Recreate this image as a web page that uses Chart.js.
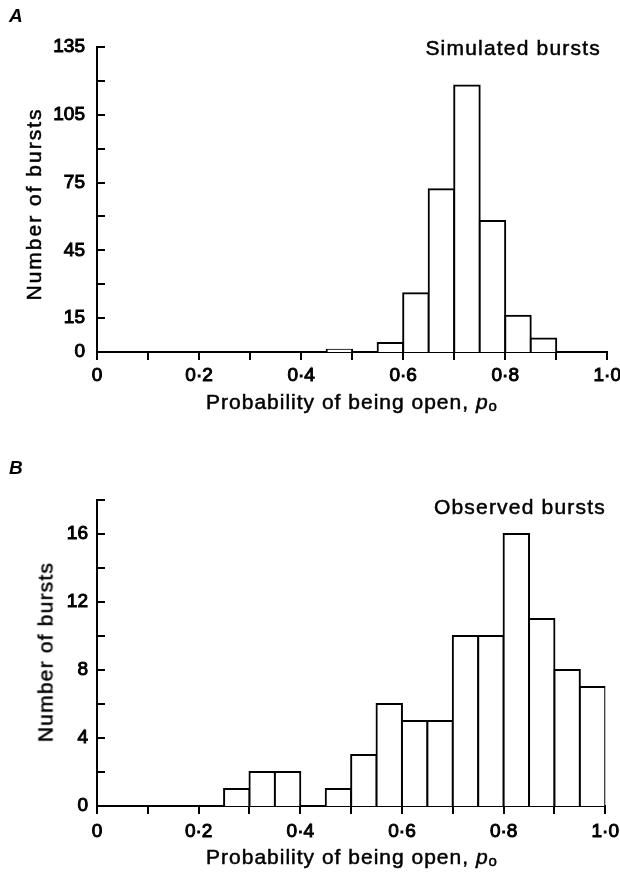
<!DOCTYPE html>
<html lang="en">

<head>
    <meta charset="UTF-8">
    <title>Probability of being open - histograms</title>
    <style>
        body { margin: 0; background: #fff; overflow: hidden; }
        #page { position: relative; width: 620px; height: 874px; overflow: hidden; font-family: "Liberation Sans", Arial, sans-serif; color: #000; }
        canvas { position: absolute; left: 0; }
        .lbl { position: absolute; white-space: nowrap; font-size: 21px; line-height: 21px; -webkit-text-stroke: 0.5px #000; }
        .panel { font-size: 19px; line-height: 19px; font-style: italic; font-weight: bold; left: 9px; -webkit-text-stroke: 0; }
        .ytitle { transform: translate(-50%, -50%) rotate(-90deg); }
        .xtitle { left: 97px; width: 509px; text-align: center; letter-spacing: 1px; }
        .xtitle sub { font-size: 15px; line-height: 0; vertical-align: -2px; letter-spacing: 0; }
    </style>
</head>

<body>
    <div id="page">
        <!-- canvas a bit wider than the page: Chart.js keeps ~19px on the right for the last tick label -->
        <canvas id="chartA" width="625" height="437" style="top:0"></canvas>
        <canvas id="chartB" width="625" height="437" style="top:437px"></canvas>

        <div class="lbl panel" style="top:6px">A</div>
        <div class="lbl" style="right:19px;top:37px;letter-spacing:1.2px">Simulated bursts</div>
        <div class="lbl ytitle" style="left:33px;top:204px;letter-spacing:2px">Number of bursts</div>
        <div class="lbl xtitle" style="top:391px">Probability of being open, <i>p</i><sub>o</sub></div>

        <div class="lbl panel" style="top:458px">B</div>
        <div class="lbl" style="right:14px;top:496px;letter-spacing:1.2px">Observed bursts</div>
        <div class="lbl ytitle" style="left:45px;top:652px;letter-spacing:1.2px">Number of bursts</div>
        <div class="lbl xtitle" style="top:846px">Probability of being open, <i>p</i><sub>o</sub></div>
    </div>

    <script src="https://cdn.jsdelivr.net/npm/chart.js"></script>
    <script>
        // bin centres (bins are 0.05 wide, from 0 to 1)
        const binCentres = [0.025, 0.075, 0.125, 0.175, 0.225, 0.275, 0.325, 0.375, 0.425, 0.475,
            0.525, 0.575, 0.625, 0.675, 0.725, 0.775, 0.825, 0.875, 0.925, 0.975];

        // counts per bin
        const simulatedCounts = [0, 0, 0, 0, 0, 0, 0, 0, 0, 1, 0, 4, 26, 72, 118, 58, 16, 6, 0, 0];
        const observedCounts = [0, 0, 0, 0, 0, 1, 2, 2, 0, 1, 3, 6, 5, 5, 10, 10, 16, 11, 8, 7];

        // tick labels
        const xTickLabels = ['0', '0·2', '0·4', '0·6', '0·8', '1·0'];
        const yLabelsA = [0, 15, 45, 75, 105, 135];
        const yLabelsB = [0, 4, 8, 12, 16];

        Chart.defaults.font.family = '"Liberation Sans", Arial, sans-serif';
        Chart.defaults.font.size = 19;
        Chart.defaults.color = '#000';

        // y ticks point into the plot, like the printed figure
        const inwardYTicks = {
            id: 'inwardYTicks',
            afterDraw(chart) {
                const y = chart.scales.y;
                const ctx = chart.ctx;
                const left = chart.chartArea.left;
                ctx.save();
                ctx.strokeStyle = '#000';
                ctx.lineWidth = 2;
                y.ticks.forEach(function (t) {
                    const py = Math.round(y.getPixelForValue(t.value));
                    ctx.beginPath();
                    ctx.moveTo(left, py);
                    ctx.lineTo(left + 8, py);
                    ctx.stroke();
                });
                ctx.restore();
            }
        };

        function makeHistogram(canvasId, counts, yMax, yStep, yLabels, topPad, axisHeight, yPad, xPad) {
            const ctx = document.getElementById(canvasId);
            return new Chart(ctx, {
                type: 'bar',
                data: {
                    datasets: [{
                        data: binCentres.map(function (c, i) {
                            return { x: c, y: counts[i] === 0 ? null : counts[i] };
                        }),
                        backgroundColor: '#fff',
                        borderColor: '#000',
                        borderWidth: 2,
                        inflateAmount: 1,
                        barPercentage: 1,
                        categoryPercentage: 1
                    }]
                },
                options: {
                    responsive: false,
                    animation: false,
                    layout: { padding: { top: topPad, right: 8, left: 0, bottom: 0 } },
                    plugins: { legend: { display: false }, tooltip: { enabled: false } },
                    scales: {
                        x: {
                            type: 'linear',
                            min: 0,
                            max: 1,
                            offset: false,
                            grid: { offset: false, drawOnChartArea: false, drawTicks: true, tickLength: 8, color: '#000', lineWidth: 2 },
                            border: { display: true, color: '#000', width: 2 },
                            ticks: {
                                stepSize: 0.1,
                                autoSkip: false,
                                maxRotation: 0,
                                padding: xPad,
                                textStrokeColor: '#000',
                                textStrokeWidth: 1,
                                callback: function (value) {
                                    const k = Math.round(value * 10);
                                    return k % 2 === 0 ? xTickLabels[k / 2] : '';
                                }
                            },
                            afterFit: function (scale) { scale.height = axisHeight; }
                        },
                        y: {
                            min: 0,
                            max: yMax,
                            grid: { display: false, drawTicks: false },
                            border: { display: true, color: '#000', width: 2 },
                            ticks: {
                                stepSize: yStep,
                                padding: yPad,
                                textStrokeColor: '#000',
                                textStrokeWidth: 1,
                                callback: function (value) {
                                    return yLabels.indexOf(value) >= 0 ? String(value) : '';
                                }
                            },
                            afterFit: function (scale) { scale.width = 97; }
                        }
                    }
                },
                plugins: [inwardYTicks]
            });
        }

        const chartA = makeHistogram('chartA', simulatedCounts, 135, 15, yLabelsA, 47, 85, 12, 4);
        const chartB = makeHistogram('chartB', observedCounts, 18, 2, yLabelsB, 63, 68, 9, 6);
    </script>
</body>

</html>
